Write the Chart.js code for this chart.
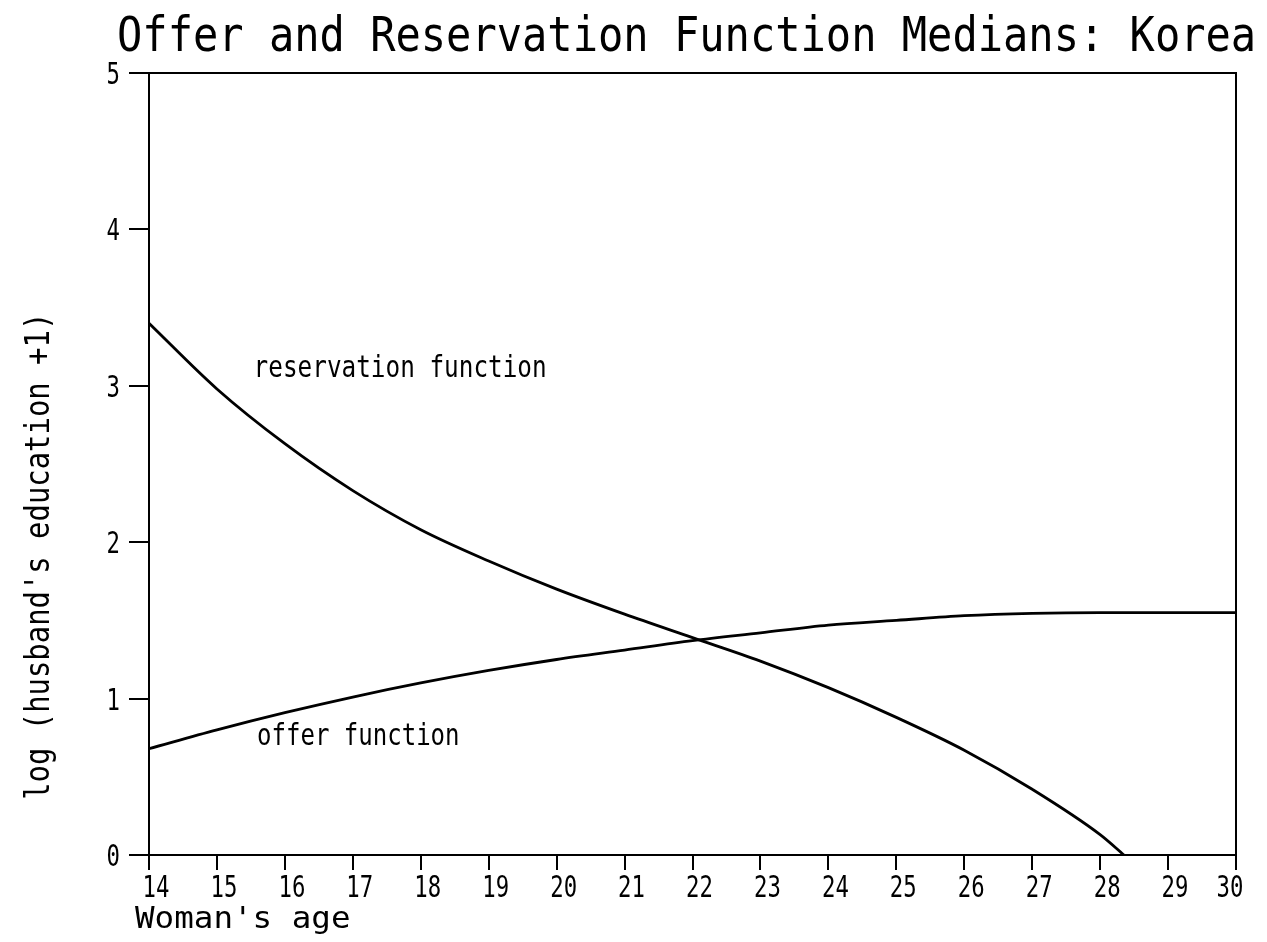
<!DOCTYPE html>
<html>
<head>
<meta charset="utf-8">
<script src="https://cdn.jsdelivr.net/npm/chart.js@4.4.1/dist/chart.umd.min.js"></script>
<style>
  html, body { margin: 0; padding: 0; background: #fff; }
  #wrap { width: 1267px; height: 942px; }
</style>
</head>
<body>
<div id="wrap"><canvas id="myChart" width="1267" height="942"></canvas></div>
<script>
// values (woman's age -> log(husband's education + 1))
const resAges = [14, 15, 16, 17, 18, 19, 20, 21, 22, 23, 24, 25, 26, 27, 28, 28.35];
const resValues = [3.40, 2.98, 2.63, 2.33, 2.08, 1.88, 1.70, 1.54, 1.39, 1.24, 1.07, 0.88, 0.67, 0.42, 0.13, 0];
const offerAges = [14, 15, 16, 17, 18, 19, 20, 21, 22, 23, 24, 25, 26, 27, 28, 29, 30];
const offerValues = [0.68, 0.80, 0.91, 1.01, 1.10, 1.18, 1.25, 1.31, 1.37, 1.42, 1.47, 1.50, 1.53, 1.545, 1.55, 1.55, 1.55];
const xTicks = [14, 15, 16, 17, 18, 19, 20, 21, 22, 23, 24, 25, 26, 27, 28, 29, 30];
const yTicks = [0, 1, 2, 3, 4, 5];

const titleText = "Offer and Reservation Function Medians: Korea";
const xTitle = "Woman's age";
const yTitle = "log (husband's education +1)";
const curveNames = ["reservation function", "offer function"];

const MONO = '"DejaVu Sans Mono", "Liberation Mono", monospace';

function squeezeText(ctx, str, x, y, size, sx, align, rot) {
  ctx.save();
  ctx.translate(x, y);
  if (rot) ctx.rotate(rot);
  ctx.scale(sx, 1);
  ctx.font = size + 'px ' + MONO;
  ctx.fillStyle = '#000';
  ctx.textAlign = align || 'left';
  ctx.textBaseline = 'alphabetic';
  ctx.fillText(str, 0, 0);
  ctx.restore();
}

// frame, titles and curve labels in the plotter style
const plotterText = {
  id: 'plotterText',
  afterDraw(chart) {
    const ctx = chart.ctx;
    const a = chart.chartArea;
    const xs = chart.scales.x, ys = chart.scales.y;
    ctx.save();
    ctx.strokeStyle = '#000';
    ctx.lineWidth = 2;
    ctx.strokeRect(a.left, a.top, a.right - a.left, a.bottom - a.top);
    ctx.restore();

    squeezeText(ctx, titleText, 117, 51, 48, 0.876, 'left');
    squeezeText(ctx, xTitle, 135, 928, 31, 1.05, 'left');
    squeezeText(ctx, yTitle, 49, ys.getPixelForValue(1.91), 34, 0.85, 'center', -Math.PI / 2);

    // curve labels
    squeezeText(ctx, curveNames[0], xs.getPixelForValue(15.54), ys.getPixelForValue(3.056), 31, 0.785, 'left');
    squeezeText(ctx, curveNames[1], xs.getPixelForValue(15.59), ys.getPixelForValue(0.703), 31, 0.775, 'left');
  }
};

// tick labels drawn from the scale's own tick positions
const tickText = {
  id: 'tickText',
  afterDraw(chart) {
    const ctx = chart.ctx;
    const xs = chart.scales.x, ys = chart.scales.y;
    xTicks.forEach(v => {
      const px = Math.min(xs.getPixelForValue(v) + 7, chart.width - 37);
      squeezeText(ctx, String(v), px, xs.top + 42, 31, 0.72, 'center');
    });
    yTicks.forEach(v => {
      squeezeText(ctx, String(v), 120, ys.getPixelForValue(v) + 11, 31, 0.72, 'right');
    });
  }
};

new Chart(document.getElementById('myChart'), {
  type: 'scatter',
  data: {
    datasets: [
      {
        label: curveNames[0],
        data: resAges.map((x, i) => ({ x: x, y: resValues[i] })),
        showLine: true,
        borderColor: '#000',
        borderWidth: 2.8,
        pointRadius: 0,
        cubicInterpolationMode: 'monotone'
      },
      {
        label: curveNames[1],
        data: offerAges.map((x, i) => ({ x: x, y: offerValues[i] })),
        showLine: true,
        borderColor: '#000',
        borderWidth: 2.8,
        pointRadius: 0,
        cubicInterpolationMode: 'monotone'
      }
    ]
  },
  options: {
    responsive: false,
    animation: false,
    events: [],
    layout: { padding: { top: 73, right: 31, bottom: 0, left: 0 } },
    plugins: {
      legend: { display: false },
      title: { display: false },
      tooltip: { enabled: false }
    },
    scales: {
      x: {
        type: 'linear',
        min: 14,
        max: 30,
        afterBuildTicks: s => { s.ticks = xTicks.map(v => ({ value: v })); },
        afterFit: s => { s.height = 87; },
        grid: { drawOnChartArea: false, color: '#000', lineWidth: 2, tickLength: 15 },
        border: { display: true, color: '#000', width: 2 },
        ticks: { display: false }
      },
      y: {
        min: 0,
        max: 5,
        afterBuildTicks: s => { s.ticks = yTicks.map(v => ({ value: v })); },
        afterFit: s => { s.width = 149; },
        grid: { drawOnChartArea: false, color: '#000', lineWidth: 2, tickLength: 20 },
        border: { display: true, color: '#000', width: 2 },
        ticks: { display: false }
      }
    }
  },
  plugins: [plotterText, tickText]
});
</script>
</body>
</html>
